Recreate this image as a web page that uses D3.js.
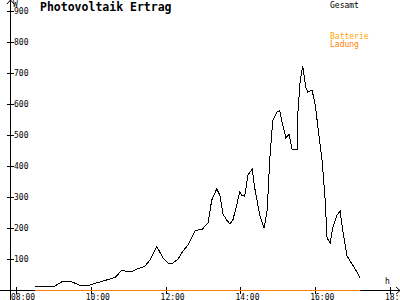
<!DOCTYPE html>
<html>
<head>
<meta charset="utf-8">
<script src="https://cdn.jsdelivr.net/npm/d3@7"></script>
<style>
  html, body { margin: 0; padding: 0; background: #fff; }
  svg { display: block; }
  text { font-family: "DejaVu Sans Mono", "Liberation Mono", monospace; }
</style>
</head>
<body>
<svg id="chart" width="400" height="300"></svg>
<script>
// data: time of day and watts
const times = ["08:30","08:40","08:50","09:00","09:15","09:30","09:45","09:55","10:05","10:10",
  "10:25","10:40","10:50","10:58","11:08","11:15","11:27","11:35","11:46","11:56",
  "12:04","12:10","12:20","12:28","12:36","12:47","12:52","12:58","13:03","13:08",
  "13:14","13:22","13:27","13:32","13:38","13:43","13:48","13:54","13:59","14:02",
  "14:07","14:12","14:19","14:23","14:31","14:38","14:43","14:47","14:52","14:59",
  "15:03","15:08","15:13","15:18","15:23","15:31","15:32","15:36","15:40","15:45",
  "15:48","15:55","16:00","16:04","16:11","16:16","16:19","16:24","16:28","16:35",
  "16:40","16:44","16:51","16:59","17:07","17:12"];
const gesamt = [10,12,12,10,28,26,13,13,21,23,
  32,42,65,58,61,68,77,97,140,103,
  87,85,100,126,145,190,194,194,206,216,
  290,326,306,245,226,213,226,274,316,306,
  303,371,390,329,242,200,258,419,548,574,
  578,532,490,503,452,452,565,677,723,652,
  639,645,597,532,419,290,168,152,200,242,
  255,194,110,84,58,39];
const ladungStart = "08:30", ladungEnd = "17:12";
const xTicks = ["08:00","10:00","12:00","14:00","16:00","18:00"];
const yTicks = [100,200,300,400,500,600,700,800,900];

const toMin = s => { const [h, m] = s.split(":").map(Number); return h * 60 + m; };

const svg = d3.select("#chart");
const x = d3.scaleLinear().domain([8 * 60, 18 * 60]).range([16, 390]);
const y = d3.scaleLinear().domain([0, 900]).range([290, 11]);

const axisX0 = 10;   // y axis position
const axisY0 = y(0);

// title
svg.append("text")
    .attr("x", 40).attr("y", 11)
    .attr("font-size", 11.5).attr("font-weight", "bold")
    .text("Photovoltaik Ertrag");

// legend
const legend = [["Gesamt", "#000", 8], ["Batterie", "#ffa500", 39], ["Ladung", "#ff8000", 47]];
svg.append("g").selectAll("text")
  .data(legend)
  .join("text")
    .attr("x", 330).attr("y", d => d[2])
    .attr("font-size", 8)
    .attr("fill", d => d[1])
    .text(d => d[0]);

// y axis
const ax = svg.append("g").attr("stroke", "#000").attr("shape-rendering", "crispEdges");
ax.append("line").attr("x1", axisX0 + 0.5).attr("x2", axisX0 + 0.5).attr("y1", 0).attr("y2", 300);
ax.selectAll(".yt")
  .data(yTicks)
  .join("line")
    .attr("x1", axisX0 - 3).attr("x2", axisX0 + 4)
    .attr("y1", d => Math.round(y(d)) + 0.5).attr("y2", d => Math.round(y(d)) + 0.5);
// x axis
ax.append("line").attr("x1", 0).attr("x2", 400).attr("y1", axisY0 + 0.5).attr("y2", axisY0 + 0.5);
ax.selectAll(".xt")
  .data(xTicks)
  .join("line")
    .attr("x1", d => Math.round(x(toMin(d))) + 0.5).attr("x2", d => Math.round(x(toMin(d))) + 0.5)
    .attr("y1", axisY0 - 3).attr("y2", axisY0 + 4);

// arrows
svg.append("path")
    .attr("d", `M${axisX0 - 3},4 L${axisX0 + 0.5},0 L${axisX0 + 4},4`)
    .attr("fill", "none").attr("stroke", "#000");
svg.append("path")
    .attr("d", `M396,${axisY0 - 3} L400,${axisY0 + 0.5} L396,${axisY0 + 4}`)
    .attr("fill", "none").attr("stroke", "#000");

svg.append("text").attr("x", axisX0 + 3).attr("y", 7).attr("font-size", 8).text("W");
svg.append("text").attr("x", 385).attr("y", 284).attr("font-size", 8).text("h");

// tick labels
svg.append("g").selectAll("text")
  .data(yTicks)
  .join("text")
    .attr("x", axisX0 + 4).attr("y", d => y(d) + 3)
    .attr("font-size", 8)
    .text(d => d);
svg.append("g").selectAll("text")
  .data(xTicks)
  .join("text")
    .attr("x", d => x(toMin(d)) - 5).attr("y", 300)
    .attr("font-size", 8)
    .text(d => d);

// Ladung line (zero all day)
svg.append("line")
    .attr("x1", x(toMin(ladungStart))).attr("x2", x(toMin(ladungEnd)))
    .attr("y1", axisY0 + 0.5).attr("y2", axisY0 + 0.5)
    .attr("stroke", "#ff8000").attr("stroke-width", 1.5)
    .attr("shape-rendering", "crispEdges");

// Gesamt line
const line = d3.line()
    .x((d, i) => x(toMin(times[i])))
    .y(d => y(d));
svg.append("path")
    .datum(gesamt)
    .attr("d", line)
    .attr("fill", "none")
    .attr("stroke", "#000")
    .attr("stroke-width", 1)
    .attr("shape-rendering", "crispEdges");
</script>
</body>
</html>
